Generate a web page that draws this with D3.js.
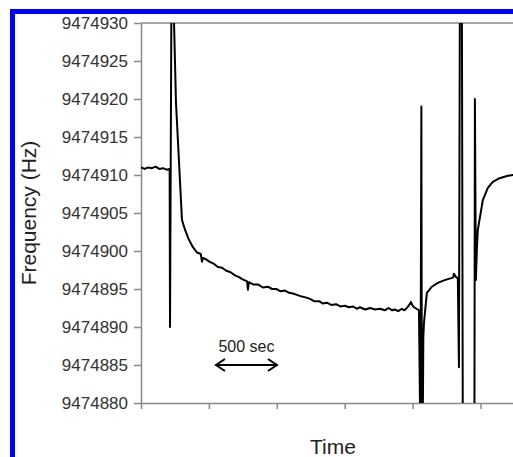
<!DOCTYPE html>
<html>
<head>
<meta charset="utf-8">
<script src="https://cdn.jsdelivr.net/npm/d3@7"></script>
<style>
  body { margin: 0; background: #fff; }
  svg { display: block; font-family: "Liberation Sans", Arial, sans-serif; }
  .axis path, .axis line { stroke: #8a8a8a; stroke-width: 1.5; }
  .axis text { fill: #333; font-size: 17px; }
</style>
</head>
<body>
<svg id="chart" width="513" height="457"></svg>
<script>
// time (s) and frequency (Hz)
const timeSec = [
  0, 30, 60, 90, 120, 150, 180, 210, 235, 238, 250, 262, 271, 287, 336, 361, 390, 426,
  460, 490, 500, 510, 535, 560, 600, 631, 665, 700, 735, 771, 800, 830, 870, 877, 885,
  920, 960, 1000, 1041, 1075, 1110, 1145, 1181, 1215, 1246, 1285, 1320, 1350, 1386,
  1420, 1460, 1490, 1525, 1560, 1600, 1635, 1673, 1705, 1740, 1770, 1796, 1840, 1880,
  1920, 1960, 2000, 2030, 2060, 2083, 2110, 2140, 2160, 2181, 2205, 2214, 2225, 2239,
  2260, 2280, 2292, 2300, 2304, 2308, 2312, 2316, 2321, 2345, 2386, 2435, 2480, 2517,
  2560, 2567, 2583, 2599, 2608, 2616, 2632, 2640, 2735, 2739, 2747, 2755, 2763, 2804,
  2845, 2886, 2930, 2968, 3010, 3050, 3149
];
const freqHz = [
  9474911.0, 9474910.8, 9474911.0, 9474910.9, 9474911.1, 9474910.8, 9474910.9, 9474910.7,
  9474910.8, 9474890.0, 9474935, 9474935, 9474930, 9474919.5, 9474904.1, 9474902.8,
  9474901.6, 9474900.5, 9474899.8, 9474899.6, 9474898.6, 9474899.1, 9474898.9, 9474898.6,
  9474898.3, 9474897.9, 9474897.8, 9474897.4, 9474897.2, 9474896.8, 9474896.6, 9474896.3,
  9474896.0, 9474894.9, 9474895.9, 9474895.6, 9474895.6, 9474895.2, 9474895.3, 9474895.0,
  9474895.0, 9474894.7, 9474894.8, 9474894.5, 9474894.4, 9474894.2, 9474894.0, 9474893.9,
  9474893.7, 9474893.4, 9474893.4, 9474893.1, 9474893.2, 9474892.9, 9474893.0, 9474892.7,
  9474892.8, 9474892.6, 9474892.7, 9474892.4, 9474892.6, 9474892.3, 9474892.5, 9474892.3,
  9474892.4, 9474892.2, 9474892.5, 9474892.2, 9474892.3, 9474892.1, 9474892.4, 9474892.2,
  9474892.5, 9474893.0, 9474893.3, 9474892.9, 9474892.6, 9474892.4, 9474892.2, 9474875,
  9474919.0, 9474875, 9474886, 9474878, 9474888.7, 9474890.5, 9474894.5, 9474895.3,
  9474895.8, 9474896.1, 9474896.3, 9474896.5, 9474897.0, 9474896.6, 9474896.4, 9474884.7,
  9474935, 9474935, 9474875, 9474875, 9474920.0, 9474896.2, 9474900.1, 9474902.8,
  9474906.7, 9474908.3, 9474909.1, 9474909.5, 9474909.7, 9474909.9, 9474910.0, 9474910.1
];
const yTicks = [9474880, 9474885, 9474890, 9474895, 9474900, 9474905,
                9474910, 9474915, 9474920, 9474925, 9474930];
const xTicks = [0, 557, 1114, 1671, 2228, 2785];
const scaleBar = [615, 1115];   // the "500 sec" arrow
const scaleBarFreq = 9474885;

const svg = d3.select("#chart");
const plotLeft = 141, plotRight = 525, plotTop = 23, plotBottom = 403;

const x = d3.scaleLinear().domain([0, 3150]).range([plotLeft, plotRight]);
const y = d3.scaleLinear().domain([9474880, 9474930]).range([plotBottom, plotTop]);

// blue frame round the figure
svg.append("rect")
    .attr("x", 12.5).attr("y", 11.5)
    .attr("width", 700).attr("height", 700)
    .attr("fill", "none")
    .attr("stroke", "#0000ff")
    .attr("stroke-width", 5);

svg.append("clipPath").attr("id", "plot")
  .append("rect")
    .attr("x", plotLeft).attr("y", plotTop)
    .attr("width", plotRight - plotLeft).attr("height", plotBottom - plotTop);

// top edge of plot box
svg.append("line")
    .attr("x1", plotLeft).attr("x2", plotRight)
    .attr("y1", y(9474930)).attr("y2", y(9474930))
    .attr("stroke", "#8a8a8a").attr("stroke-width", 1.5);

svg.append("g")
    .attr("class", "axis")
    .attr("transform", `translate(${plotLeft},0)`)
    .call(d3.axisLeft(y).tickValues(yTicks).tickFormat(d3.format("d"))
        .tickSize(7).tickSizeOuter(0).tickPadding(6));

svg.append("g")
    .attr("class", "axis")
    .attr("transform", `translate(0,${plotBottom})`)
    .call(d3.axisBottom(x).tickValues(xTicks).tickFormat("")
        .tickSize(6).tickSizeOuter(0));

const pts = timeSec.map((t, i) => [t, freqHz[i]]);
const line = d3.line().x(d => x(d[0])).y(d => y(d[1]));

svg.append("path")
    .datum(pts)
    .attr("clip-path", "url(#plot)")
    .attr("d", line)
    .attr("fill", "none")
    .attr("stroke", "#000")
    .attr("stroke-width", 2)
    .attr("stroke-linejoin", "round");

// scale arrow
const ay = y(scaleBarFreq);
const ax0 = x(scaleBar[0]), ax1 = x(scaleBar[1]);
const arrow = svg.append("g")
    .attr("fill", "none").attr("stroke", "#000").attr("stroke-width", 2);
arrow.append("line").attr("x1", ax0).attr("x2", ax1).attr("y1", ay).attr("y2", ay);
arrow.append("path").attr("d", `M${ax0 + 9},${ay - 6}L${ax0},${ay}L${ax0 + 9},${ay + 6}`);
arrow.append("path").attr("d", `M${ax1 - 9},${ay - 6}L${ax1},${ay}L${ax1 - 9},${ay + 6}`);

svg.append("text")
    .attr("x", (ax0 + ax1) / 2).attr("y", ay - 13)
    .attr("text-anchor", "middle")
    .attr("font-size", 16)
    .attr("fill", "#222")
    .text("500 sec");

svg.append("text")
    .attr("x", (plotLeft + plotRight) / 2).attr("y", 454)
    .attr("text-anchor", "middle")
    .attr("font-size", 21)
    .attr("fill", "#222")
    .text("Time");

svg.append("text")
    .attr("transform", `translate(36,${(plotTop + plotBottom) / 2}) rotate(-90)`)
    .attr("text-anchor", "middle")
    .attr("font-size", 21)
    .attr("fill", "#222")
    .text("Frequency (Hz)");
</script>
</body>
</html>
